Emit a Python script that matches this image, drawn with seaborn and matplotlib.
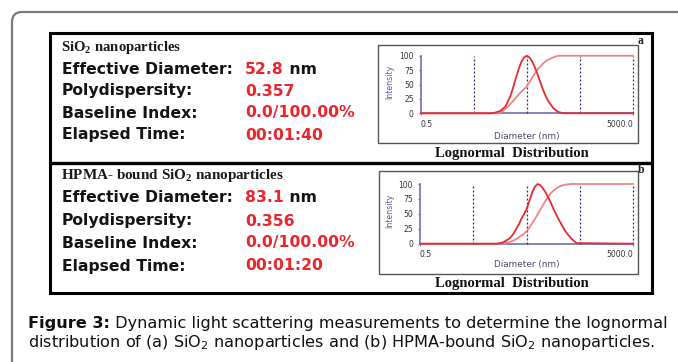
import numpy as np
import pandas as pd
import seaborn as sns
import matplotlib.pyplot as plt
from matplotlib.patches import Rectangle, FancyBboxPatch
from matplotlib.ticker import NullLocator

# --- values ---
diam_a = [0.5, 10, 12.5, 15.8, 19.9, 25, 28, 31.5, 35.4, 39.7, 44.5, 50, 56, 63, 70.7, 79.3,
          89, 99.8, 112, 125.6, 141, 158, 177, 199, 250, 5000]
dist_a = [0, 0, 1, 4, 12, 32, 47, 63, 78, 90, 97, 100, 97, 90, 80, 68,
          55, 42, 31, 22, 15, 9, 5, 2, 0, 0]
cum_a = [0, 0, 0, 1, 8, 17, 22, 28, 33, 38, 42, 47, 54, 62, 69, 76,
         81, 86, 90, 93, 95, 97, 99, 100, 100, 100]

diam_b = [0.5, 14, 18, 24, 28, 32, 36, 40, 45, 50, 56, 63, 71, 80, 90, 100, 113, 128, 143,
          160, 183, 210, 240, 270, 340, 430, 5000]
dist_b = [0, 0, 2, 9, 16, 25, 33, 42, 50, 58, 71, 85, 95, 100, 98, 93, 86, 77, 68,
          58, 47, 37, 28, 20, 9, 1, 0]
cum_b = [0, 0, 1, 3, 5, 8, 11, 14, 17, 21, 27, 34, 41, 49, 57, 64, 72, 79, 85,
         89, 93, 96, 98, 99, 100, 100, 100]

labels = ["Effective Diameter:", "Polydispersity:", "Baseline Index:", "Elapsed Time:"]
values_a = ["52.8", "0.357", "0.0/100.00%", "00:01:40"]
values_b = ["83.1", "0.356", "0.0/100.00%", "00:01:20"]
titles = [r"SiO$_\mathbf{2}$ nanoparticles", r"HPMA- bound SiO$_\mathbf{2}$ nanoparticles"]
yticks = [0, 25, 50, 75, 100]
vlines = [5, 50, 500, 5000]

sns.set_style("white")
plt.rcParams['font.family'] = ['DejaVu Sans']
plt.rcParams['mathtext.fontset'] = 'custom'
plt.rcParams['mathtext.rm'] = 'DejaVu Sans'
plt.rcParams['mathtext.bf'] = 'Liberation Serif:bold'

W, H = 678, 362
fig = plt.figure(figsize=(W / 100, H / 100), dpi=100)
bg = fig.add_axes([0, 0, 1, 1])
bg.set_xlim(0, W)
bg.set_ylim(H, 0)
bg.axis('off')
rend = fig.canvas.get_renderer()


def fit(t, w):
    bb = t.get_window_extent(rend)
    t.set_fontsize(t.get_fontsize() * w / bb.width)
    return t.get_fontsize()


def right_px(t):
    bb = t.get_window_extent(rend)
    return bb.x1


RED = '#e8262c'
CURVE1 = '#e82a2e'
CURVE2 = '#f08484'
AXC = '#6f6fb0'
DOT = '#2c2c80'
SERIF = 'Liberation Serif'

# frames
bg.add_patch(FancyBboxPatch((12, 12), 720, 420, boxstyle='round,pad=0,rounding_size=10',
                            ec='#7a7a7a', fc='none', lw=1.6))
bg.add_patch(Rectangle((50, 33), 602, 260, ec='black', fc='none', lw=2.2))
bg.plot([50, 652], [163, 163], color='black', lw=2.4)

panels = [
    dict(head_y=47, rows=[69, 91, 113, 135], vals=values_a, title=titles[0], tw=121,
         box=(378, 45, 260, 98), ax=(420.7, 633, 113.3, 55.7), letter='a', letter_y=41,
         dlabel_y=136, logn_y=154, diam=diam_a, dist=dist_a, cum=cum_a),
    dict(head_y=176, rows=[198, 221, 243, 266], vals=values_b, title=titles[1], tw=224,
         box=(379, 171, 259, 103), ax=(420, 633.3, 243.7, 184), letter='b', letter_y=170,
         dlabel_y=265, logn_y=284, diam=diam_b, dist=dist_b, cum=cum_b),
]

# label font size from the width of "Effective Diameter:"
probe = bg.text(62, 69, labels[0], fontsize=11, fontweight='bold', alpha=0)
lab_fs = fit(probe, 171)
probe.remove()

for p in panels:
    t = bg.text(61, p['head_y'], p['title'], family=SERIF, fontweight='bold', fontsize=8,
                va='center', ha='left', color='#1a1a1a')
    fit(t, p['tw'])
    for lab, val, y in zip(labels, p['vals'], p['rows']):
        bg.text(62, y, lab, fontsize=lab_fs, fontweight='bold', va='center', color='#141414')
        tv = bg.text(245, y, val, fontsize=lab_fs, fontweight='bold', va='center', color=RED)
        if lab.startswith('Effective'):
            bg.text(right_px(tv), y, ' nm', fontsize=lab_fs, fontweight='bold', va='center',
                    color='#141414')

    bx, by, bw, bh = p['box']
    bg.add_patch(Rectangle((bx, by), bw, bh, ec='#555555', fc='none', lw=1.0))
    bg.text(641, p['letter_y'], p['letter'], family=SERIF, fontweight='bold', fontsize=8.5,
            ha='center', va='center')
    tl = bg.text(512, p['logn_y'], 'Lognormal  Distribution', family=SERIF, fontweight='bold',
                 fontsize=9, ha='center', va='center', color='#111111')
    fit(tl, 153)

    x0, x1, y0, y100 = p['ax']
    ax = fig.add_axes([x0 / W, (H - y0) / H, (x1 - x0) / W, (y0 - y100) / H])
    ax.set_facecolor('none')
    df = pd.DataFrame({'Diameter (nm)': p['diam'], 'dist': p['dist'], 'cum': p['cum']})
    ax.vlines(vlines, 0, 100, colors=DOT, linestyles=(0, (1.6, 1.6)), lw=0.9, clip_on=False)
    sns.lineplot(data=df, x='Diameter (nm)', y='cum', ax=ax, color=CURVE2, lw=1.3,
                 sort=False, estimator=None, clip_on=False)
    sns.lineplot(data=df, x='Diameter (nm)', y='dist', ax=ax, color=CURVE1, lw=1.3,
                 sort=False, estimator=None, clip_on=False)
    ax.set_xscale('log')
    ax.set_xlim(0.5, 5000)
    ax.set_ylim(0, 100)
    for s in ['top', 'right']:
        ax.spines[s].set_visible(False)
    for s in ['left', 'bottom']:
        ax.spines[s].set_color(AXC)
        ax.spines[s].set_linewidth(1.2)
        ax.spines[s].set_zorder(0.5)
    ax.set_yticks(yticks)
    ax.set_yticklabels([str(v) for v in yticks])
    ax.set_xticks([0.5, 5000])
    ax.xaxis.set_minor_locator(NullLocator())
    ax.set_xticklabels(['0.5', '5000.0'])
    xl = ax.get_xticklabels()
    xl[0].set_ha('left')
    xl[1].set_ha('right')
    ax.tick_params(axis='y', length=1.7, width=0.8, color=AXC, pad=3.3, labelsize=5.5,
                   labelcolor='#333333', left=True)
    ax.tick_params(axis='x', length=1.7, width=0.8, color=AXC, pad=3, labelsize=5.5,
                   labelcolor='#333333', bottom=True)
    ax.set_xlabel('')
    ax.set_ylabel('')
    bg.text(390, (y0 + y100) / 2 - 3, 'Intensity', rotation=90, fontsize=5.6, color='#5a5aa2',
            ha='center', va='center')
    td = bg.text(527, p['dlabel_y'], 'Diameter (nm)', fontsize=5.5, color='#4a4a70',
                 ha='center', va='center')
    fit(td, 66)

# caption
c1 = bg.text(28, 328, 'Figure 3:', fontsize=11, fontweight='bold', va='baseline', color='#111111')
c2 = bg.text(0, 328, ' Dynamic light scattering measurements to determine the lognormal',
             fontsize=11, va='baseline', color='#111111')
w1 = c1.get_window_extent(rend).width
w2 = c2.get_window_extent(rend).width
cap_fs = 11 * 640 / (w1 + w2)
c1.set_fontsize(cap_fs)
c2.set_fontsize(cap_fs)
c2.set_x(28 + c1.get_window_extent(rend).width)
bg.text(28, 347, r'distribution of (a) SiO$_\mathrm{2}$ nanoparticles and (b) HPMA-bound '
                 r'SiO$_\mathrm{2}$ nanoparticles.', fontsize=cap_fs, va='baseline', color='#111111')

fig.savefig('out.png', dpi=100)
